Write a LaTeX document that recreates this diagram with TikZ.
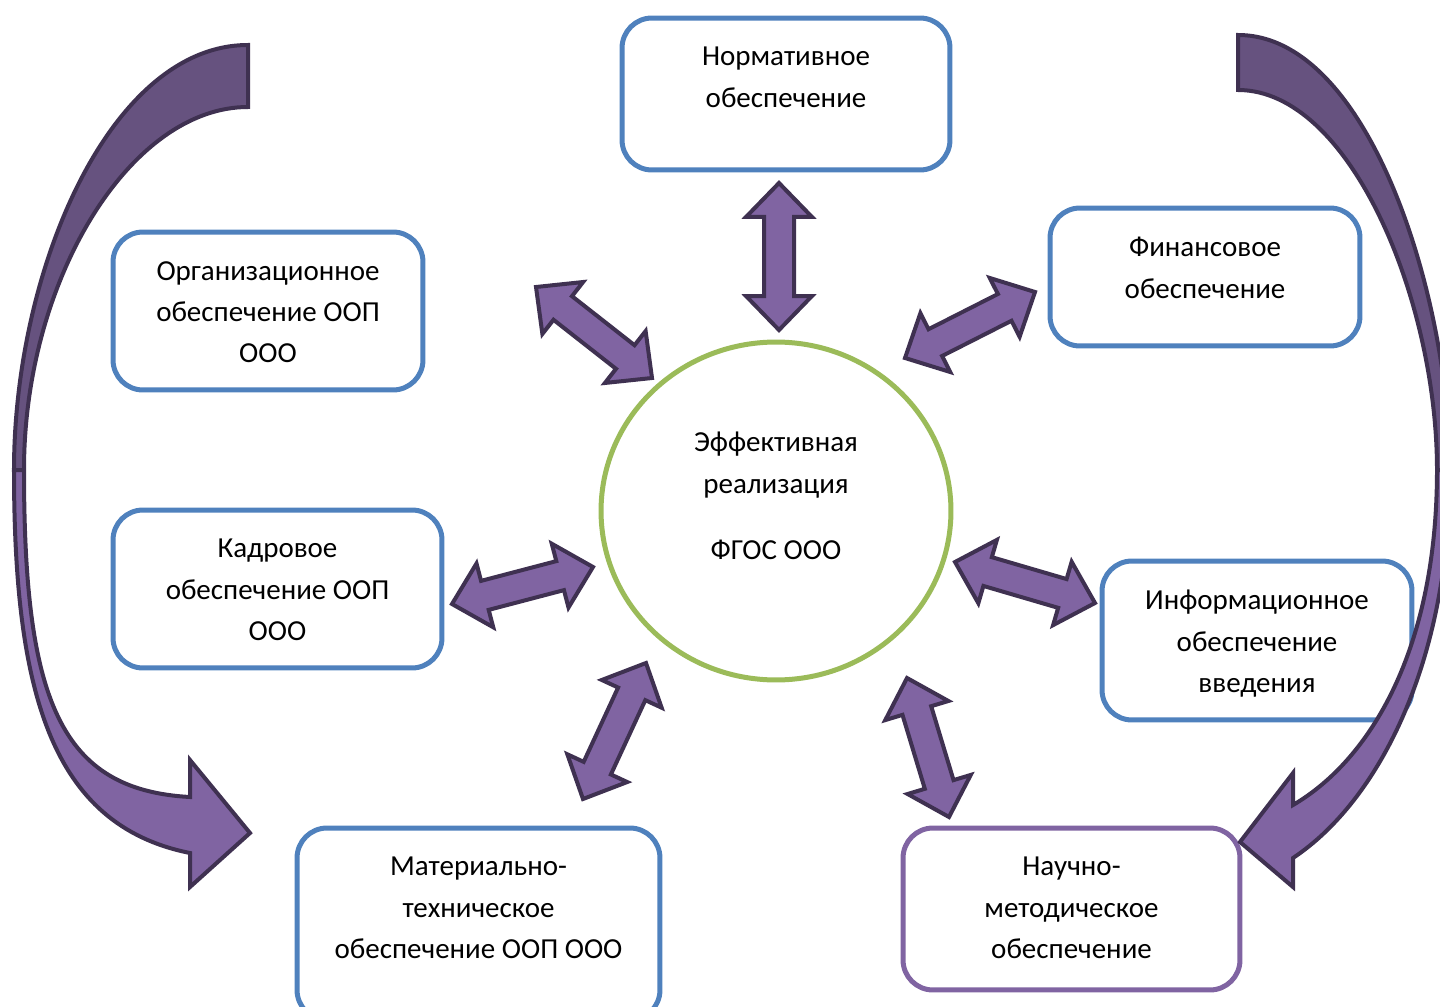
\documentclass[tikz,border=0pt]{standalone}
\usepackage{fontspec}
\newfontfamily\diagfont{Carlito}
\usepackage{tikz}
\usetikzlibrary{shapes.geometric,positioning,calc}
\usepackage{xcolor}

\definecolor{boxblue}{HTML}{4F81BD}
\definecolor{ringgreen}{HTML}{9BBB59}
\definecolor{arrowfill}{HTML}{8064A2}
\definecolor{arrowback}{HTML}{66527F}
\definecolor{arrowline}{HTML}{3F3151}

\newcommand{\headlen}{0.68cm}
\newcommand{\headw}{0.66cm}
\newcommand{\shaftw}{0.30cm}
% two-headed block arrow between two named coordinates
\newcommand{\twoway}[2]{%
  \coordinate (#1-h) at ($(#1)!\headlen!(#2)$);
  \coordinate (#2-h) at ($(#2)!\headlen!(#1)$);
  \draw[blockarrow] (#1)
    -- ($(#1-h)!\headw!90:(#2)$) -- ($(#1-h)!\shaftw!90:(#2)$)
    -- ($(#2-h)!\shaftw!-90:(#1)$) -- ($(#2-h)!\headw!-90:(#1)$)
    -- (#2)
    -- ($(#2-h)!\headw!90:(#1)$) -- ($(#2-h)!\shaftw!90:(#1)$)
    -- ($(#1-h)!\shaftw!-90:(#2)$) -- ($(#1-h)!\headw!-90:(#2)$)
    -- cycle;}

\begin{document}
\begin{tikzpicture}[x=0.02cm, y=-0.02cm,
    box/.style={rectangle, draw=boxblue, line width=0.1cm, rounded corners=0.6cm, fill=white},
    ring/.style={ellipse, draw=ringgreen, line width=0.1cm, fill=white, inner sep=0pt},
    txt/.style={align=center, inner sep=0pt, font=\diagfont\fontsize{16.5}{23.5}\selectfont, execute at begin node=\strut},
    blockarrow/.style={draw=arrowline, fill=arrowfill, line width=0.08cm},
    curveback/.style={draw=arrowline, fill=arrowback, line width=0.08cm},
    curvefront/.style={draw=arrowline, fill=arrowfill, line width=0.08cm}
]
\useasboundingbox (0,0) rectangle (1440,1007);
\clip (0,0) rectangle (1440,1007);

% Boxes
\node (norm) [box, minimum width=6.56cm, minimum height=3.04cm] at (786,94) {};
\node (org) [box, minimum width=6.2cm, minimum height=3.16cm] at (268,311) {};
\node (fin) [box, minimum width=6.2cm, minimum height=2.76cm] at (1205,277) {};
\node (kadr) [box, minimum width=6.58cm, minimum height=3.16cm] at (277.5,589) {};
\node (info) [box, minimum width=6.2cm, minimum height=3.18cm] at (1257,640.5) {};
\node (mat) [box, minimum width=7.26cm, minimum height=3.84cm] at (478.5,924) {};
\node (nauch) [box, draw=arrowfill, minimum width=6.74cm, minimum height=3.24cm] at (1071.5,909) {};

% Centre
\node (goal) [ring, minimum width=7cm, minimum height=6.76cm] at (776,511) {};

% Curved arrows
\draw[curveback] (248,45) .. controls (110,45) and (14,270) .. (14,470)
  -- (24,470) .. controls (24,280) and (130,107) .. (248,107) -- cycle;
\draw[curvefront] (14,470) .. controls (14,690) and (50,825) .. (190,853)
  -- (190,887) -- (250,833) -- (190,760) -- (190,797)
  .. controls (60,790) and (24,700) .. (24,470) -- cycle;
\draw[curveback] (1238,35) .. controls (1370,35) and (1450,300) .. (1450,470)
  -- (1437,470) .. controls (1437,300) and (1350,90) .. (1238,90) -- cycle;
\draw[curvefront] (1450,470) .. controls (1450,660) and (1380,800) .. (1293,858)
  -- (1293,887) -- (1240,842) -- (1293,773) -- (1293,805)
  .. controls (1370,760) and (1437,650) .. (1437,470) -- cycle;

% Arrow ends
\coordinate (norm-a) at (779,183);
\coordinate (norm-b) at (779,330);
\coordinate (org-a) at (536,287);
\coordinate (org-b) at (652,378);
\coordinate (fin-a) at (1035,292);
\coordinate (fin-b) at (905,358);
\coordinate (kadr-a) at (452,604);
\coordinate (kadr-b) at (593,567);
\coordinate (info-a) at (1095,603);
\coordinate (info-b) at (955,562);
\coordinate (mat-a) at (583,799);
\coordinate (mat-b) at (646,663);
\coordinate (nauch-a) at (949,817);
\coordinate (nauch-b) at (907,678);

% Block arrows
\twoway{norm-a}{norm-b}
\twoway{org-a}{org-b}
\twoway{fin-a}{fin-b}
\twoway{kadr-a}{kadr-b}
\twoway{info-a}{info-b}
\twoway{mat-a}{mat-b}
\twoway{nauch-a}{nauch-b}

% Texts
\node (norm-t) [txt, below=0.63cm of norm.north] {Нормативное\\обеспечение};
\node (org-t) [txt, below=0.63cm of org.north] {Организационное\\обеспечение ООП\\ООО};
\node (fin-t) [txt, below=0.63cm of fin.north] {Финансовое\\обеспечение};
\node (kadr-t) [txt, below=0.63cm of kadr.north] {Кадровое\\обеспечение ООП\\ООО};
\node (info-t) [txt, below=0.63cm of info.north] {Информационное\\обеспечение\\введения};
\node (mat-t) [txt, below=0.63cm of mat.north] {Материально-\\техническое\\обеспечение ООП ООО};
\node (nauch-t) [txt, below=0.63cm of nauch.north] {Научно-\\методическое\\обеспечение};
\node (goal-t) [txt, below=1.85cm of goal.north] {Эффективная\\реализация\\[14pt]ФГОС ООО};

\end{tikzpicture}
\end{document}
